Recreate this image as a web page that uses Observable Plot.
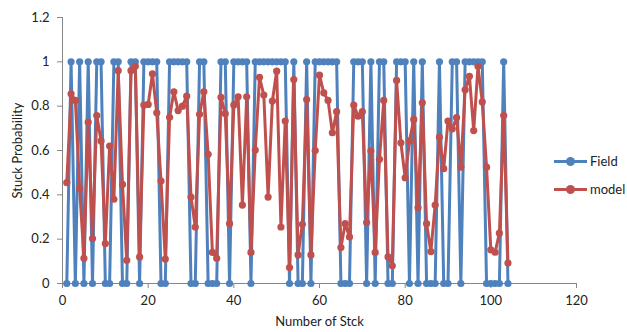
<!DOCTYPE html>
<html>
<head>
<meta charset="utf-8">
<script src="https://cdn.jsdelivr.net/npm/d3@7"></script>
<script src="https://cdn.jsdelivr.net/npm/@observablehq/plot@0.6"></script>
<style>
  html, body { margin: 0; padding: 0; background: #fff; }
  #wrap { position: relative; width: 627px; height: 332px; font-family: Lato, "Open Sans", sans-serif; }
  .legend { position: absolute; left: 554px; top: 147px; font-size: 13px; color: #222; }
  .item { display: flex; align-items: center; height: 28px; }
  .sw { position: relative; width: 33px; height: 10px; margin-right: 3px; }
  .sw .ln { position: absolute; left: 0; right: 0; top: 3.5px; height: 3px; }
  .sw .dt { position: absolute; left: 12px; top: 0.5px; width: 9px; height: 9px; border-radius: 50%; }
</style>
</head>
<body>
<div id="wrap"></div>
<script>
const seriesNames = ["Field", "model"];
const seriesColors = ["#4F81BD", "#C0504D"];

const field = [
  0,1,0,1,0,1,0,1,1,0,
  0,1,1,0,0,1,1,0,1,1,
  1,1,0,0,1,1,1,1,1,0,
  0,1,1,0,0,0,1,1,0,1,
  1,1,1,0,1,1,1,1,1,1,
  1,1,0,1,0,0,1,0,1,1,
  1,1,1,1,0,0,0,1,1,1,
  0,1,0,1,1,0,0,1,1,1,
  0,1,0,1,0,0,0,1,0,0,
  1,1,0,1,1,1,1,1,0,0,
  0,0,1,0
];

const model = [
  0.455,0.856,0.826,0.43,0.114,0.728,0.203,0.758,0.643,0.18,
  0.62,0.38,0.96,0.447,0.105,0.96,0.98,0.12,0.805,0.808,
  0.946,0.77,0.462,0.11,0.75,0.865,0.78,0.80,0.845,0.39,
  0.255,0.763,0.865,0.583,0.14,0.114,0.84,0.766,0.27,0.805,
  0.842,0.354,0.842,0.14,0.602,0.93,0.85,0.39,0.823,0.958,
  0.255,0.733,0.072,0.92,0.129,0.267,0.83,0.129,0.60,0.94,
  0.86,0.826,0.68,0.775,0.162,0.27,0.21,0.805,0.755,0.775,
  0.275,0.598,0.14,0.56,0.826,0.12,0.08,0.916,0.635,0.477,
  0.643,0.74,0.342,0.815,0.27,0.144,0.354,0.66,0.518,0.733,
  0.698,0.748,0.525,0.874,0.935,0.69,0.98,0.819,0.525,0.152,
  0.141,0.227,0.758,0.092
];

const stickNumbers = field.map((_, i) => i + 1);

const xTicks = [0, 20, 40, 60, 80, 100, 120];
const yTicks = [0, 0.2, 0.4, 0.6, 0.8, 1, 1.2];
const yTickLabels = ["0", "0.2", "0.4", "0.6", "0.8", "1", "1.2"];

const rows = [];
[field, model].forEach((vals, s) => {
  vals.forEach((v, i) => rows.push({series: seriesNames[s], x: stickNumbers[i], y: v}));
});

const axisColor = "#868686";

const chart = Plot.plot({
  width: 627,
  height: 332,
  marginLeft: 62,
  marginRight: 51,
  marginTop: 17,
  marginBottom: 49,
  style: {fontFamily: "Lato, 'Open Sans', sans-serif", fontSize: "13px", color: "#222", background: "#fff"},
  x: {domain: [0, 120]},
  y: {domain: [0, 1.2]},
  color: {domain: seriesNames, range: seriesColors},
  marks: [
    Plot.ruleX([0], {stroke: axisColor, strokeWidth: 1}),
    Plot.ruleY([0], {stroke: axisColor, strokeWidth: 1}),
    Plot.axisX({ticks: xTicks, tickSize: 5, tickPadding: 7, stroke: axisColor,
      label: "Number of Stck", labelAnchor: "center", labelArrow: "none", labelOffset: 42,
      tickFormat: d => String(d), fill: "#222"}),
    Plot.axisY({ticks: yTicks, tickSize: 5, tickPadding: 8, stroke: axisColor,
      label: "Stuck Probability", labelAnchor: "center", labelArrow: "none", labelOffset: 50,
      tickFormat: d => yTickLabels[yTicks.indexOf(d)], fill: "#222"}),
    Plot.line(rows, {x: "x", y: "y", z: "series", stroke: "series", strokeWidth: 3, strokeLinejoin: "round"}),
    Plot.dot(rows, {x: "x", y: "y", fill: "series", r: 3.6, stroke: "none"})
  ]
});

const wrap = document.getElementById("wrap");
wrap.appendChild(chart);

const legend = document.createElement("div");
legend.className = "legend";
seriesNames.forEach((name, i) => {
  const item = document.createElement("div");
  item.className = "item";
  item.innerHTML = `<span class="sw"><span class="ln" style="background:${seriesColors[i]}"></span><span class="dt" style="background:${seriesColors[i]}"></span></span><span>${name}</span>`;
  legend.appendChild(item);
});
wrap.appendChild(legend);
</script>
</body>
</html>
